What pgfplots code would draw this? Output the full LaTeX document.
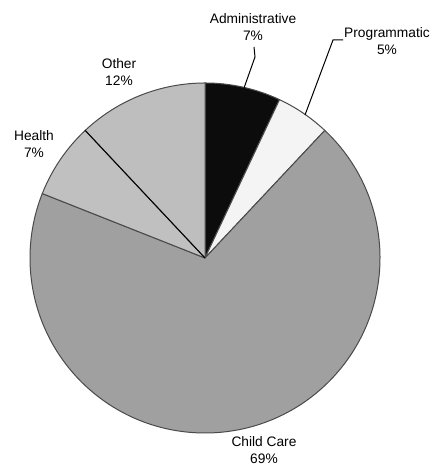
\documentclass[border=0pt]{standalone}
\usepackage{fontspec}
\setmainfont{Liberation Sans}
\usepackage{pgfplots}
\pgfplotsset{compat=1.18}
\definecolor{cAdmin}{HTML}{0C0C0C}
\definecolor{cProg}{HTML}{F4F4F4}
\definecolor{cChild}{HTML}{A0A0A0}
\definecolor{cHealth}{HTML}{C0C0C0}
\definecolor{cOther}{HTML}{BEBEBE}
\definecolor{cEdge}{HTML}{4A4A4A}

% pie centre and radius (axis units = pixels of the reference)
\def\cx{205}\def\cy{207}\def\R{87.5bp}
% #1 = cumulative percent at start, #2 = at end, #3 = colour
\newcommand\slice[3]{%
  \filldraw[fill=#3, draw=cEdge, line width=0.5bp, line join=round]
    (\cx,\cy) -- ++({90-3.6*#1}:\R)
    arc[start angle={90-3.6*#1}, end angle={90-3.6*#2}, radius=\R] -- cycle;}

\begin{document}
\begin{tikzpicture}[every node/.style={font=\fontsize{6.9}{8.5}\selectfont, align=center, inner sep=0pt}]
\begin{axis}[
  x=0.5bp, y=0.5bp,
  xmin=0, xmax=432, ymin=0, ymax=465,
  hide axis, clip=false,
]
% percentages: Administrative 7, Programmatic 5, Child Care 69, Health 7, Other 12
\slice{0}{7}{cAdmin}
\slice{7}{12}{cProg}
\slice{12}{81}{cChild}
\slice{81}{88}{cHealth}
\slice{88}{100}{cOther}
\draw[black, line width=0.45bp] (\cx,\cy) -- ++({90-3.6*88}:\R);

% leader lines
\draw[line width=0.5bp] (254,418) -- (255,408) -- (244,377);
\draw[line width=0.5bp] (343,425) -- (333,425) -- (305,350);

\node at (253,438) {Administrative\\7\%};
\node at (387,423.5) {Programmatic\\5\%};
\node at (119,393) {Other\\12\%};
\node at (34,320.5) {Health\\7\%};
\node at (264,15) {Child Care\\69\%};
\end{axis}
\pgfresetboundingbox
\path[use as bounding box] (current axis.south west) rectangle (current axis.north east);
\end{tikzpicture}
\end{document}
